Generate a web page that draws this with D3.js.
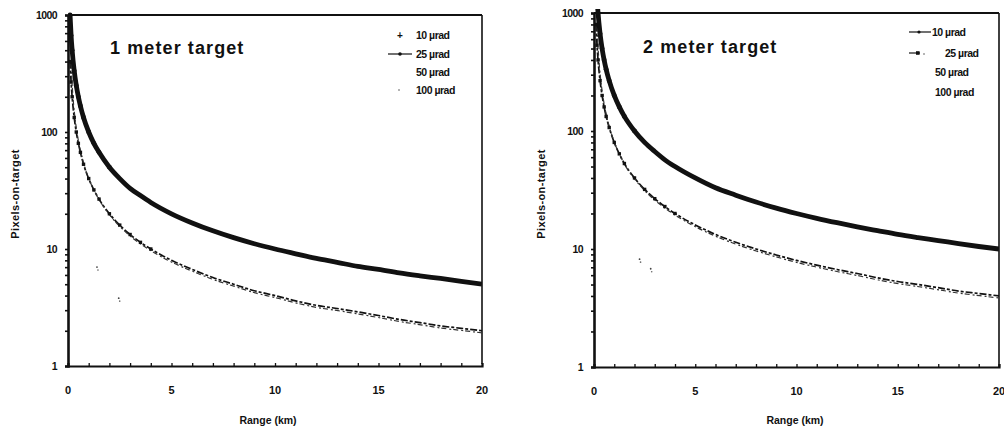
<!DOCTYPE html>
<html>
<head>
<meta charset="utf-8">
<script src="https://cdn.jsdelivr.net/npm/d3@7"></script>
<style>
  html, body { margin: 0; padding: 0; background: #fff; }
  svg { display: block; }
  text { font-family: "Liberation Sans", Arial, sans-serif; fill: #111; }
</style>
</head>
<body>
<svg id="chart" width="1004" height="434"></svg>
<script>
// Range samples (km)
const rangeKm = [0.1, 0.15, 0.2, 0.3, 0.4, 0.5, 0.6, 0.75, 1, 1.25, 1.5, 2, 2.5, 3, 3.5, 4, 5, 6, 7, 8, 9, 10, 11, 12, 13, 14, 15, 16, 17, 18, 19, 20];

// Pixels on a 1 m target
const oneMeter10urad = [1000, 667, 500, 333, 250, 200, 167, 133, 100, 80, 67, 50, 40, 33, 28.6, 25, 20, 16.7, 14.3, 12.5, 11.1, 10, 9.1, 8.3, 7.7, 7.1, 6.7, 6.25, 5.9, 5.6, 5.3, 5];
const oneMeter25urad = [400, 267, 200, 133, 100, 80, 67, 53, 40, 32, 26.7, 20, 16, 13.3, 11.4, 10, 8, 6.7, 5.7, 5, 4.4, 4, 3.6, 3.3, 3.1, 2.9, 2.7, 2.5, 2.35, 2.2, 2.1, 2];
const oneMeter100uradRange = [1.4, 2.45];
const oneMeter100urad = [7.0, 3.8];

// Pixels on a 2 m target
const twoMeter10urad = [2000, 1333, 1000, 667, 500, 400, 333, 267, 200, 160, 133, 100, 80, 67, 57, 50, 40, 33, 28.6, 25, 22.2, 20, 18.2, 16.7, 15.4, 14.3, 13.3, 12.5, 11.8, 11.1, 10.5, 10];
const twoMeter25urad = [800, 533, 400, 267, 200, 160, 133, 107, 80, 64, 53, 40, 32, 26.7, 22.9, 20, 16, 13.3, 11.4, 10, 8.9, 8, 7.3, 6.7, 6.2, 5.7, 5.3, 5, 4.7, 4.4, 4.2, 4];
const twoMeter100uradRange = [2.25, 2.8];
const twoMeter100urad = [8.2, 6.8];

// Axis ticks and legend
const xTicks = [0, 5, 10, 15, 20];
const yTicks = [1, 10, 100, 1000];
const legendLabels = ["10 \u00b5rad", "25 \u00b5rad", "50 \u00b5rad", "100 \u00b5rad"];

const svg = d3.select("#chart");

function drawPanel(cfg) {
  const x = d3.scaleLinear().domain([0, 20]).range([cfg.x0, cfg.x1]);
  const y = d3.scaleLog().domain([1, 1000]).range([cfg.yb, cfg.yt]);
  const g = svg.append("g");

  const clipId = "clip" + cfg.id;
  svg.append("clipPath").attr("id", clipId)
    .append("rect").attr("x", cfg.x0).attr("y", cfg.yt - 4)
    .attr("width", cfg.x1 - cfg.x0).attr("height", cfg.yb - cfg.yt + 4);

  // frame: top and right borders
  g.append("line").attr("x1", x(0)).attr("x2", x(20)).attr("y1", y(1000)).attr("y2", y(1000))
    .attr("stroke", "#111").attr("stroke-width", 2);
  g.append("line").attr("x1", x(20)).attr("x2", x(20)).attr("y1", y(1000)).attr("y2", y(1) + cfg.rightExt)
    .attr("stroke", "#111").attr("stroke-width", 1.6);

  // x axis
  const xAxis = d3.axisBottom(x).tickValues(d3.range(0, 21, 1)).tickSize(-3).tickFormat("");
  const xa = g.append("g").attr("transform", `translate(0,${y(1)})`).call(xAxis);
  xa.select(".domain").attr("stroke", "#111").attr("stroke-width", 2.2);
  xa.selectAll(".tick line").attr("stroke", "#111").attr("stroke-width", 1.3);
  xTicks.forEach(v => {
    g.append("text").attr("x", x(v)).attr("y", y(1) + 28).attr("text-anchor", "middle")
      .attr("font-size", 11).attr("font-weight", "bold").text(v);
  });

  // y axis (log)
  const minor = [];
  [1, 10, 100].forEach(d => { for (let k = 2; k <= 9; k++) minor.push(d * k); });
  const yAxis = d3.axisLeft(y).tickValues(minor.concat(yTicks)).tickSize(3).tickFormat("");
  const ya = g.append("g").attr("transform", `translate(${x(0)},0)`).call(yAxis);
  ya.select(".domain").attr("stroke", "#111").attr("stroke-width", 2.6);
  ya.selectAll(".tick line").attr("stroke", "#111").attr("stroke-width", 1.6);
  yTicks.forEach(v => {
    g.append("text").attr("x", x(0) - 11).attr("y", y(v) + 4).attr("text-anchor", "end")
      .attr("font-size", 10.5).attr("font-weight", "bold").attr("letter-spacing", -0.6).text(v);
  });

  // axis titles
  g.append("text").attr("transform", `translate(${cfg.yLabelX},${cfg.yLabelY}) rotate(-90)`)
    .attr("text-anchor", "middle").attr("font-size", 11).attr("font-weight", "bold")
    .attr("letter-spacing", 0.4).text("Pixels-on-target");
  g.append("text").attr("x", cfg.xLabelX).attr("y", 424).attr("text-anchor", "middle")
    .attr("font-size", 10.5).attr("font-weight", "bold").text("Range (km)");

  // panel title
  g.append("text").attr("x", cfg.titleX).attr("y", cfg.titleY)
    .attr("font-size", 18).attr("font-weight", "bold").attr("letter-spacing", 1.1).text(cfg.title);

  const line = d3.line().x((d, i) => x(rangeKm[i])).y(d => y(d)).curve(d3.curveMonotoneX);
  const plot = g.append("g").attr("clip-path", `url(#${clipId})`);

  // 25 µrad: scanned pair of dashed strokes
  plot.append("path").datum(cfg.s25).attr("d", line).attr("fill", "none")
    .attr("stroke", "#111").attr("stroke-width", 1.7).attr("stroke-dasharray", "7 2 3 2");
  plot.append("path").datum(cfg.s25).attr("d", line).attr("fill", "none")
    .attr("transform", "translate(1,2.2)")
    .attr("stroke", "#333").attr("stroke-width", 1.2).attr("stroke-dasharray", "5 3 2 2");

  // 10 µrad: dense marker line
  plot.append("path").datum(cfg.s10).attr("d", line).attr("fill", "none")
    .attr("stroke", "#111").attr("stroke-width", 4.8);
  plot.selectAll(".m10").data(cfg.s10.slice(0, 12)).enter().append("circle")
    .attr("cx", (d, i) => x(rangeKm[i])).attr("cy", d => y(d)).attr("r", 2.4).attr("fill", "#111");
  plot.selectAll(".m25").data(cfg.s25.slice(0, 16)).enter().append("rect")
    .attr("x", (d, i) => x(rangeKm[i]) - 1.7).attr("y", d => y(d) - 1.7)
    .attr("width", 3.4).attr("height", 3.4).attr("fill", "#111");

  // 100 µrad: sparse points
  cfg.s100.forEach((v, i) => {
    plot.append("circle").attr("cx", x(cfg.r100[i])).attr("cy", y(v)).attr("r", 0.9).attr("fill", "#444");
    plot.append("circle").attr("cx", x(cfg.r100[i]) + 1).attr("cy", y(v) + 3).attr("r", 0.8).attr("fill", "#666");
  });

  // legend
  const L = cfg.legend;
  legendLabels.forEach((t, i) => {
    g.append("text").attr("x", L.tx[i]).attr("y", L.ty[i] + 4).attr("font-size", 10.5)
      .attr("font-weight", "bold").attr("letter-spacing", -0.5).text(t);
  });
  if (cfg.id === 1) {
    g.append("text").attr("x", L.mx).attr("y", L.ty[0] + 4).attr("text-anchor", "middle")
      .attr("font-size", 10).attr("font-weight", "bold").text("+");
    g.append("line").attr("x1", L.mx - 12).attr("x2", L.mx + 12).attr("y1", L.ty[1]).attr("y2", L.ty[1])
      .attr("stroke", "#111").attr("stroke-width", 1.2);
    g.append("circle").attr("cx", L.mx).attr("cy", L.ty[1]).attr("r", 1.8).attr("fill", "#111");
    g.append("circle").attr("cx", L.mx - 1).attr("cy", L.ty[3]).attr("r", 0.8).attr("fill", "#555");
  } else {
    g.append("line").attr("x1", L.mx - 10).attr("x2", L.mx + 12).attr("y1", L.ty[0]).attr("y2", L.ty[0])
      .attr("stroke", "#111").attr("stroke-width", 1.2);
    g.append("circle").attr("cx", L.mx).attr("cy", L.ty[0]).attr("r", 1.6).attr("fill", "#111");
    g.append("line").attr("x1", L.mx - 10).attr("x2", L.mx + 1).attr("y1", L.ty[1]).attr("y2", L.ty[1])
      .attr("stroke", "#111").attr("stroke-width", 1.2);
    g.append("rect").attr("x", L.mx - 3).attr("y", L.ty[1] - 1.8).attr("width", 3.6).attr("height", 3.6).attr("fill", "#111");
    g.append("circle").attr("cx", L.mx + 5).attr("cy", L.ty[1] + 1).attr("r", 0.7).attr("fill", "#333");
  }
}

drawPanel({
  id: 1, x0: 68, x1: 482, yb: 366, yt: 15, rightExt: -2,
  s10: oneMeter10urad, s25: oneMeter25urad, s100: oneMeter100urad, r100: oneMeter100uradRange,
  title: "1 meter target", titleX: 110, titleY: 54,
  yLabelX: 19, yLabelY: 194, xLabelX: 268,
  legend: { mx: 400, tx: [416, 416, 416, 416], ty: [35, 54, 72, 90] }
});

drawPanel({
  id: 2, x0: 594, x1: 999, yb: 367, yt: 13, rightExt: 0,
  s10: twoMeter10urad, s25: twoMeter25urad, s100: twoMeter100urad, r100: twoMeter100uradRange,
  title: "2 meter target", titleX: 643, titleY: 53,
  yLabelX: 545, yLabelY: 194, xLabelX: 795,
  legend: { mx: 919, tx: [932, 945, 935, 935], ty: [32, 53, 72, 92] }
});
</script>
</body>
</html>
